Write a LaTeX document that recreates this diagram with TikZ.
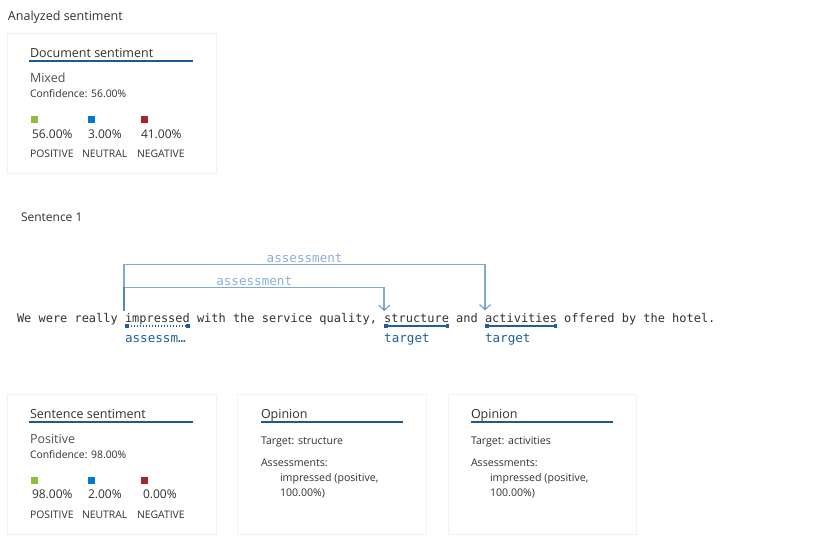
\documentclass[tikz,border=0pt]{standalone}
\usepackage{fontspec}
\setmainfont{Open Sans}
\setmonofont{DejaVu Sans Mono}
\usetikzlibrary{arrows.meta,shadows,calc}

\definecolor{inkdark}{HTML}{323130}
\definecolor{inkmid}{HTML}{505050}
\definecolor{rulecol}{HTML}{1F5A8C}
\definecolor{arccol}{HTML}{2F6FB0}
\definecolor{arclab}{HTML}{8AB0D6}
\definecolor{tagcol}{HTML}{1E5F9F}
\definecolor{poscol}{HTML}{8DBF3F}
\definecolor{neucol}{HTML}{0078D4}
\definecolor{negcol}{HTML}{A4262C}

\begin{document}
\begin{tikzpicture}[x=1pt,y=-1pt,
  every node/.style={inner sep=0pt,outer sep=0pt,anchor=base west},
  card/.style={draw=black!5,fill=white,anchor=north west,
    drop shadow={shadow xshift=0.6pt,shadow yshift=-1.2pt,opacity=0.08}},
  title/.style={font=\fontsize{12.5}{15}\selectfont,text=inkdark},
  head/.style={font=\fontsize{12.5}{15}\selectfont,text=inkdark},
  big/.style={font=\fontsize{12.5}{15}\selectfont,text=inkmid},
  small/.style={font=\fontsize{10.4}{12}\selectfont,text=inkdark},
  pct/.style={font=\fontsize{12}{14}\selectfont,text=inkdark},
  cat/.style={font=\fontsize{10.4}{12}\selectfont,text=inkdark},
  body/.style={font=\fontsize{10.6}{12}\selectfont,text=inkdark},
  mono/.style={font=\ttfamily\fontsize{11.96}{14}\selectfont,text=inkdark},
  arclabel/.style={font=\ttfamily\fontsize{12.6}{14}\selectfont,text=arclab,anchor=base},
  tag/.style={font=\ttfamily\fontsize{12.6}{14}\selectfont,text=tagcol},
  headrule/.style={draw=rulecol,line width=1.2pt},
  arcline/.style={draw=arccol,draw opacity=0.6,line width=1.5pt,
    -{Straight Barb[length=5pt,width=11pt,line width=1.3pt]}},
  span/.style={draw=tagcol,line width=2pt,
    {Square[length=3.5pt,width=4pt]}-{Square[length=3.5pt,width=4pt]}},
  dotspan/.style={span,dash pattern=on 1.6pt off 1.4pt},
]
\useasboundingbox (0,0) rectangle (832,546);

% ---------- document level ----------
\node[title] (analyzed) at (8,20) {Analyzed sentiment};

\node[card,minimum width=209pt,minimum height=140pt] (doccard) at (7,33) {};
\node[head] (dochead) at (30,57) {Document sentiment};
\draw[headrule] (29,61) -- (193,61);
\node[big] (docval) at (30,82) {Mixed};
\node[small] (docconf) at (30,97) {Confidence: 56.00\%};
\fill[poscol] (31,116) rectangle (38,123);
\fill[neucol] (88,116) rectangle (95,123);
\fill[negcol] (141,116) rectangle (148,123);
\node[pct] (docpos) at (32,138) {56.00\%};
\node[pct] (docneu) at (88,138) {3.00\%};
\node[pct] (docneg) at (141,138) {41.00\%};
\node[cat] (docposl) at (30,157) {POSITIVE};
\node[cat] (docneul) at (82,157) {NEUTRAL};
\node[cat] (docnegl) at (137,157) {NEGATIVE};

% ---------- sentence with its relations ----------
\node[title,font=\fontsize{12}{14}\selectfont] (sentlabel) at (21,221) {Sentence 1};

\node[mono] (s0) at (17,322) {We were really};
\node[mono] (imp) at ([xshift=7.2pt]s0.base east) {impressed};
\node[mono] (s1) at ([xshift=7.2pt]imp.base east) {with the service quality,};
\node[mono] (str) at ([xshift=7.2pt]s1.base east) {structure};
\node[mono] (s2) at ([xshift=7.2pt]str.base east) {and};
\node[mono] (act) at ([xshift=7.2pt]s2.base east) {activities};
\node[mono] (s3) at ([xshift=7.2pt]act.base east) {offered by the hotel.};

\coordinate (lvlA) at (0,264.5);
\coordinate (lvlB) at (0,287.5);
\coordinate (ulv) at (0,326);
\coordinate (impA) at ([xshift=-0.8pt,yshift=2pt]imp.north west);
\coordinate (strA) at ([yshift=2.5pt]str.north west);
\coordinate (actA) at ([yshift=2.5pt]act.north west);

\draw[arcline] (impA) -- (impA |- lvlA) -| (actA);
\draw[arcline] (impA) -- (impA |- lvlB) -| (strA);
\node[arclabel] (labA) at ([yshift=1.6pt]$(impA |- lvlA)!0.5!(actA |- lvlA)$) {assessment};
\node[arclabel] (labB) at ([yshift=1.6pt]$(impA |- lvlB)!0.5!(strA |- lvlB)$) {assessment};

\draw[dotspan] (imp.west |- ulv) -- (imp.east |- ulv);
\draw[span] (str.west |- ulv) -- (str.east |- ulv);
\draw[span] (act.west |- ulv) -- (act.east |- ulv);
\node[tag] (tagimp) at (imp.west |- 0,342) {assessm…};
\node[tag] (tagstr) at (str.west |- 0,342) {target};
\node[tag] (tagact) at (act.west |- 0,342) {target};

% ---------- sentence level ----------
\node[card,minimum width=209pt,minimum height=140pt] (sentcard) at (7,394) {};
\node[head] (senthead) at (30,418) {Sentence sentiment};
\draw[headrule] (29,422) -- (193,422);
\node[big] (sentval) at (30,443) {Positive};
\node[small] (sentconf) at (30,458) {Confidence: 98.00\%};
\fill[poscol] (31,477) rectangle (38,484);
\fill[neucol] (88,477) rectangle (95,484);
\fill[negcol] (141,477) rectangle (148,484);
\node[pct] (sentpos) at (32,498) {98.00\%};
\node[pct] (sentneu) at (88,498) {2.00\%};
\node[pct] (sentneg) at (143,498) {0.00\%};
\node[cat] (sentposl) at (30,518) {POSITIVE};
\node[cat] (sentneul) at (82,518) {NEUTRAL};
\node[cat] (sentnegl) at (137,518) {NEGATIVE};

% ---------- opinions ----------
\node[card,minimum width=189pt,minimum height=140pt] (opcardA) at (237,394) {};
\node[head] (opheadA) at (261,418) {Opinion};
\draw[headrule] (261,422) -- (403,422);
\node[body] (optargA) at (261,444) {Target: structure};
\node[body] (opassA) at (261,466) {Assessments:};
\node[body] (opitemA) at (280,481) {impressed (positive,};
\node[body] (opscoreA) at (280,496) {100.00\%)};

\node[card,minimum width=188pt,minimum height=140pt] (opcardB) at (448,394) {};
\node[head] (opheadB) at (471,418) {Opinion};
\draw[headrule] (471,422) -- (613,422);
\node[body] (optargB) at (471,444) {Target: activities};
\node[body] (opassB) at (471,466) {Assessments:};
\node[body] (opitemB) at (490,481) {impressed (positive,};
\node[body] (opscoreB) at (490,496) {100.00\%)};
\end{tikzpicture}
\end{document}
